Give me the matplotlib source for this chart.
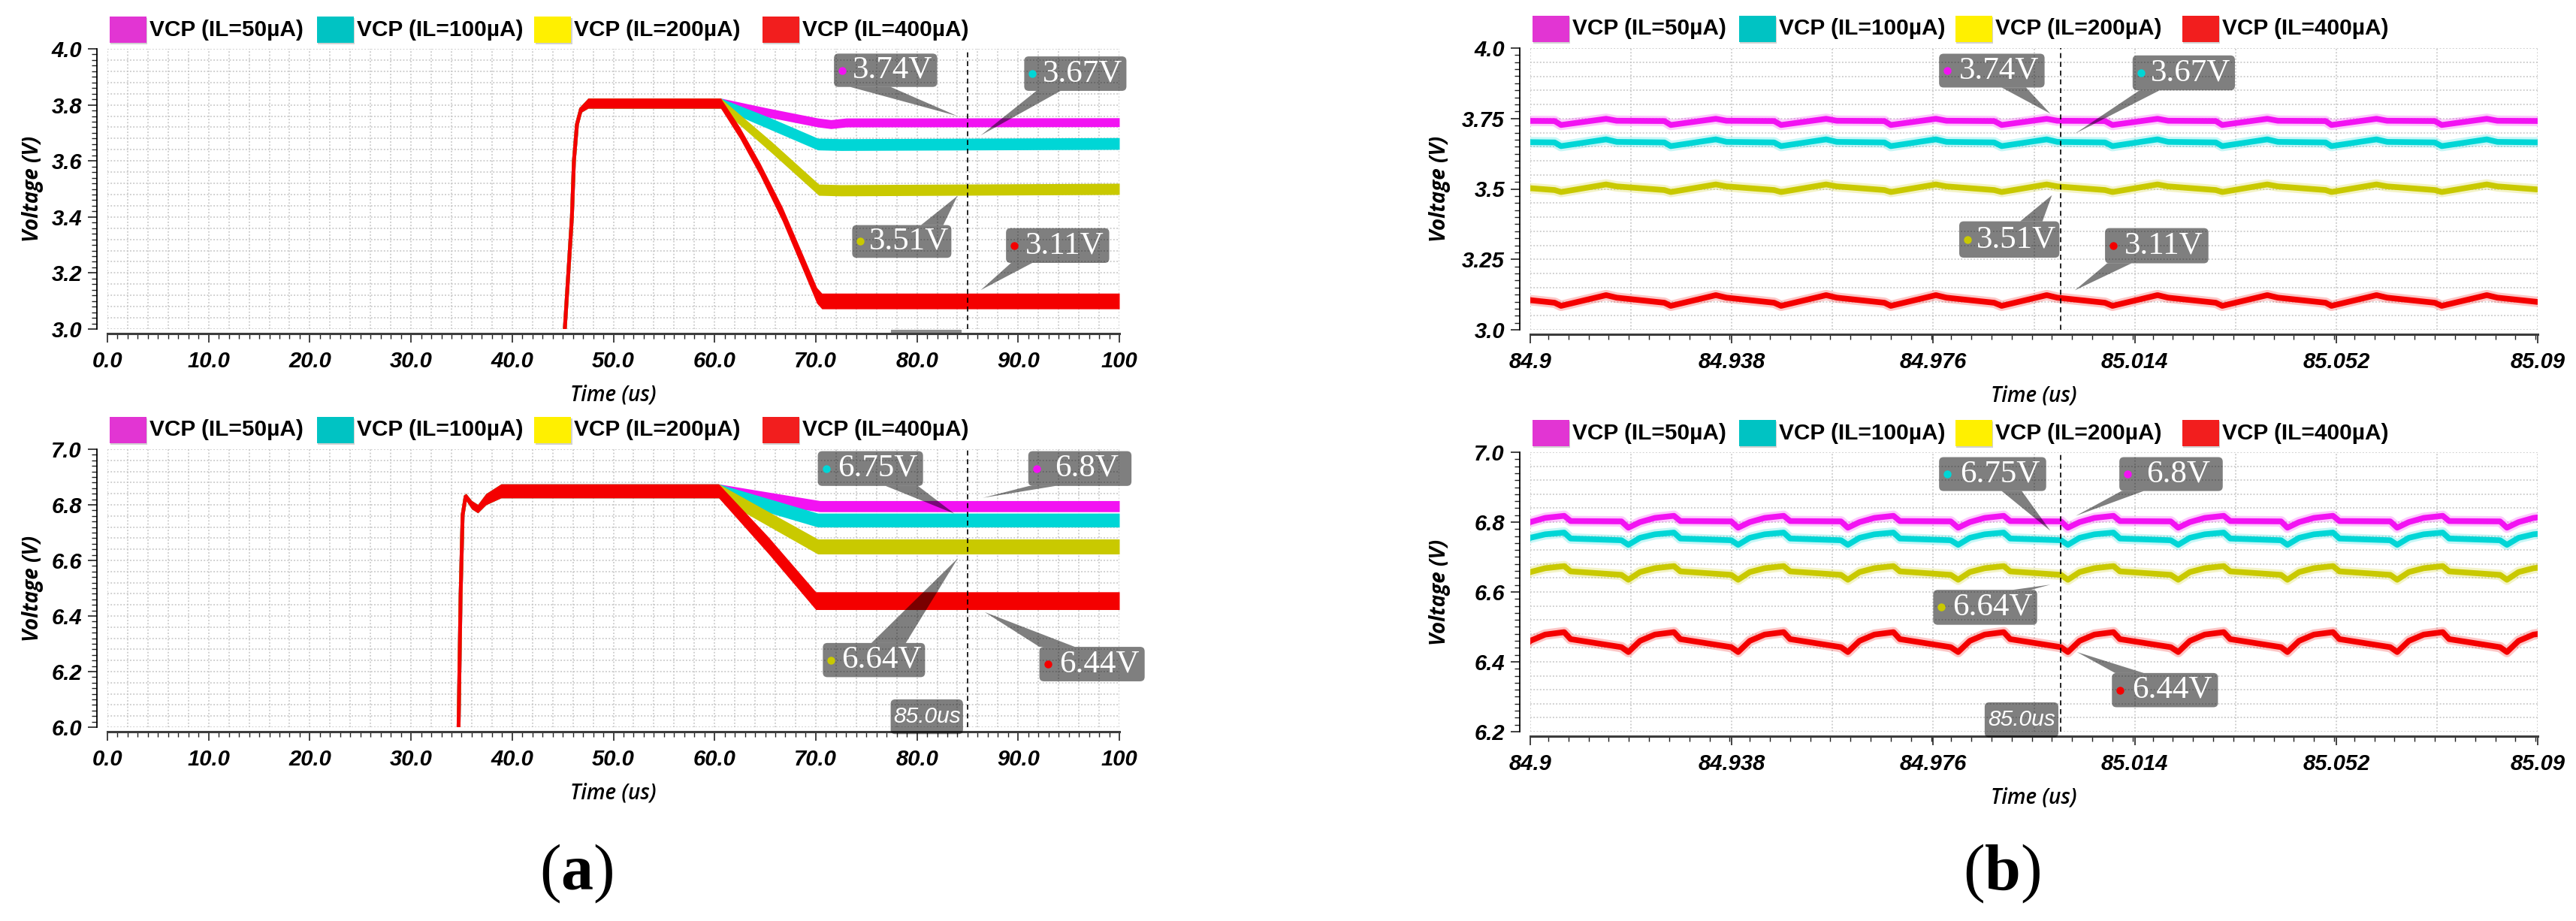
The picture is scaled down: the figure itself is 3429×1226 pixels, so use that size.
import numpy as np
import matplotlib
matplotlib.use("Agg")
import matplotlib.pyplot as plt
from matplotlib import font_manager as fm
from matplotlib.patches import FancyBboxPatch, Polygon, Rectangle
from matplotlib.ticker import MultipleLocator

W_PX, H_PX, DPI = 3430, 1226, 100

_names = {f.name for f in fm.fontManager.ttflist}


def pick(*cands):
    for c in cands:
        if c in _names:
            return c
    return "DejaVu Sans"


SANS = pick("Liberation Sans", "Arimo", "DejaVu Sans")
LBL = pick("Open Sans", "Liberation Sans", "DejaVu Sans")
SERIF = pick("Liberation Serif", "DejaVu Serif")

plt.rcParams["font.family"] = [SANS, "DejaVu Sans"]
plt.rcParams["mathtext.fontset"] = "custom"
plt.rcParams["mathtext.rm"] = SERIF
plt.rcParams["mathtext.bf"] = SERIF + ":bold"

# ============================ DATA ============================
SERIES = ["VCP (IL=50µA)", "VCP (IL=100µA)", "VCP (IL=200µA)", "VCP (IL=400µA)"]

# ---- (a) top panel, 0..100 us : shared start-up, then per-series tails
A_TOP_RISE_T = [45.2, 45.9, 46.1, 46.4, 46.8, 47.5, 60.6]
A_TOP_RISE_V = [3.00, 3.40, 3.60, 3.73, 3.785, 3.806, 3.806]
A_TOP_RISE_H = [0.0, 0.0, 0.0, 0.006, 0.012, 0.018, 0.018]   # ripple half-band
A_TOP_TAIL_T = [[65.3, 70.2, 71.5, 73.0, 100.0],
                [65.5, 70.2, 72.5, 100.0],
                [65.6, 70.3, 72.5, 100.0],
                [62.5, 64.5, 66.7, 68.7, 70.1, 70.6, 100.0]]
A_TOP_TAIL_V = [[3.772, 3.737, 3.731, 3.737, 3.738],
                [3.733, 3.660, 3.658, 3.662],
                [3.650, 3.497, 3.495, 3.500],
                [3.700, 3.570, 3.410, 3.240, 3.120, 3.100, 3.100]]
A_TOP_TAIL_H = [[0.016, 0.016, 0.016, 0.016, 0.016],
                [0.021, 0.021, 0.021, 0.021],
                [0.020, 0.020, 0.020, 0.020],
                [0.020, 0.022, 0.025, 0.027, 0.028, 0.028, 0.028]]

# ---- (a) bottom panel
A_BOT_RISE_T = [34.7, 34.9, 35.1, 35.4, 36.0, 36.6, 37.4, 38.9, 60.4]
A_BOT_RISE_V = [6.00, 6.47, 6.763, 6.83, 6.80, 6.786, 6.82, 6.85, 6.85]
A_BOT_RISE_H = [0.0, 0.0, 0.008, 0.012, 0.015, 0.015, 0.020, 0.025, 0.025]
A_BOT_TAIL_T = [[70.4, 100.0],
                [70.2, 100.0],
                [70.2, 100.0],
                [65.3, 70.0, 70.5, 100.0]]
A_BOT_TAIL_V = [[6.795, 6.795],
                [6.745, 6.745],
                [6.650, 6.650],
                [6.655, 6.455, 6.455, 6.455]]
A_BOT_TAIL_H = [[0.020, 0.020],
                [0.025, 0.025],
                [0.027, 0.027],
                [0.030, 0.032, 0.032, 0.032]]

# ---- (b) top panel (zoom 84.9..85.09 us): ripple dip times and per-cycle vertices
B_TOP_DIPS = [84.8851, 84.9058, 84.9265, 84.9473, 84.9680, 84.9889,
              85.0098, 85.0305, 85.0511, 85.0719]
B_TOP_CYCLE_DT = [0.0, 0.0085, 0.0105, 0.0195]        # dip, peak, kink, pre-dip
B_TOP_CYCLE_V = [[3.727, 3.749, 3.742, 3.741],
                 [3.652, 3.676, 3.667, 3.665],
                 [3.489, 3.516, 3.509, 3.496],
                 [3.085, 3.123, 3.114, 3.096]]

# ---- (b) bottom panel
B_BOT_DIPS = [84.8978, 84.9185, 84.9392, 84.9599, 84.9807, 85.0014,
              85.0222, 85.0428, 85.0635, 85.0842]
B_BOT_CYCLE_DT = [0.0, 0.0022, 0.0050, 0.0086, 0.0098, 0.0194]
B_BOT_CYCLE_V = [[6.784, 6.800, 6.812, 6.818, 6.803, 6.802],
                 [6.735, 6.755, 6.765, 6.770, 6.753, 6.748],
                 [6.635, 6.657, 6.668, 6.674, 6.659, 6.649],
                 [6.428, 6.460, 6.478, 6.485, 6.465, 6.442]]

CURSOR_T = 85.0
CURSOR_LABEL = "85.0us"

# callout texts (series index, text)
A_TOP_MARKS = [(0, "3.74V"), (1, "3.67V"), (2, "3.51V"), (3, "3.11V")]
A_BOT_MARKS = [(1, "6.75V"), (0, "6.8V"), (2, "6.64V"), (3, "6.44V")]
B_TOP_MARKS = [(0, "3.74V"), (1, "3.67V"), (2, "3.51V"), (3, "3.11V")]
B_BOT_MARKS = [(1, "6.75V"), (0, "6.8V"), (2, "6.64V"), (3, "6.44V")]

# tick labels
A_X_TICKS = [0, 10, 20, 30, 40, 50, 60, 70, 80, 90, 100]
A_X_LABELS = ["0.0", "10.0", "20.0", "30.0", "40.0", "50.0", "60.0", "70.0", "80.0", "90.0", "100"]
A_TOP_Y_TICKS = [3.0, 3.2, 3.4, 3.6, 3.8, 4.0]
A_TOP_Y_LABELS = ["3.0", "3.2", "3.4", "3.6", "3.8", "4.0"]
A_BOT_Y_TICKS = [6.0, 6.2, 6.4, 6.6, 6.8, 7.0]
A_BOT_Y_LABELS = ["6.0", "6.2", "6.4", "6.6", "6.8", "7.0"]
B_X_TICKS = [84.9, 84.938, 84.976, 85.014, 85.052, 85.09]
B_X_LABELS = ["84.9", "84.938", "84.976", "85.014", "85.052", "85.09"]
B_TOP_Y_TICKS = [3.0, 3.25, 3.5, 3.75, 4.0]
B_TOP_Y_LABELS = ["3.0", "3.25", "3.5", "3.75", "4.0"]
B_BOT_Y_TICKS = [6.2, 6.4, 6.6, 6.8, 7.0]
B_BOT_Y_LABELS = ["6.2", "6.4", "6.6", "6.8", "7.0"]

# ============================ STYLE / LAYOUT ============================
LINE_COLORS = ["#F212F2", "#00D6D6", "#C9C900", "#F40000"]
LEG_COLORS = ["#E235D3", "#00C3C3", "#FFF000", "#F21E1E"]

AXPOS = {  # left, bottom, width, height in pixels (bottom measured from top edge)
    "a_top": (143, 438, 1347, 373),
    "a_bot": (143, 968, 1347, 370),
    "b_top": (2037, 439, 1341, 375),
    "b_bot": (2037, 974, 1341, 372),
}

# callout geometry: box (x0,x1,y0,y1), pointer base (bx0,bx1,by), tip (tx,ty)
GEOM = {
    "a_top": [((71.8, 82.0, 3.864, 3.983), (73.4, 77.4, 3.864), (84.0, 3.760)),
              ((90.6, 100.7, 3.850, 3.973), (91.8, 94.2, 3.850), (86.3, 3.691)),
              ((73.6, 83.4, 3.254, 3.371), (80.4, 82.6, 3.371), (84.0, 3.475)),
              ((88.8, 99.0, 3.236, 3.360), (89.3, 91.4, 3.236), (86.3, 3.139))],
    "a_bot": [((70.2, 80.6, 6.868, 6.993), (76.9, 80.1, 6.868), (83.7, 6.768)),
              ((91.0, 101.2, 6.868, 6.993), (91.1, 93.7, 6.868), (86.5, 6.825)),
              ((70.7, 80.8, 6.180, 6.303), (75.5, 78.9, 6.303), (84.05, 6.608)),
              ((92.1, 102.5, 6.165, 6.289), (92.1, 95.6, 6.289), (86.7, 6.414))],
    "b_top": [((84.9771, 84.9970, 3.860, 3.980), (84.9889, 84.9935, 3.860), (84.9981, 3.767)),
              ((85.0136, 85.0329, 3.850, 3.974), (85.0149, 85.0187, 3.850), (85.0027, 3.696)),
              ((84.9809, 84.9998, 3.256, 3.385), (84.9924, 84.9966, 3.385), (84.9984, 3.478)),
              ((85.0084, 85.0279, 3.236, 3.361), (85.0088, 85.0134, 3.236), (85.0027, 3.140))],
    "b_bot": [((84.9771, 84.9973, 6.889, 6.986), (84.9889, 84.9927, 6.889), (84.9981, 6.775)),
              ((85.0111, 85.0306, 6.889, 6.986), (85.0115, 85.0157, 6.889), (85.0029, 6.818)),
              ((84.9760, 84.9956, 6.506, 6.606), (84.9910, 84.9944, 6.606), (84.9981, 6.621)),
              ((85.0097, 85.0297, 6.270, 6.368), (85.0103, 85.0157, 6.368), (85.0031, 6.428))],
}
TIMEBOX = {"a_bot": (77.4, 84.55, 5.975, 6.100), "b_bot": (84.9857, 84.9996, 6.184, 6.284)}
SLIVER = {"a_top": (77.4, 84.4)}   # hidden cursor-label box peeking at the axis line

LEG_X = [0.002, 0.207, 0.422, 0.647]

fig = plt.figure(figsize=(W_PX / DPI, H_PX / DPI), dpi=DPI)


def make_ax(key):
    l, b, w, h = AXPOS[key]
    return fig.add_axes([l / W_PX, 1 - b / H_PX, w / W_PX, h / H_PX])


def style_ax(ax, key, xlim, ylim, xt, xl, yt, yl, xminor, yminor, xgrid, ygrid, ylab_x):
    ax.set_xlim(*xlim)
    ax.set_ylim(*ylim)
    ax.patch.set_alpha(0)
    for s in ("top", "right"):
        ax.spines[s].set_visible(False)
    ax.spines["left"].set_position(("outward", 10))
    ax.spines["bottom"].set_position(("outward", 4.5))
    ax.spines["left"].set_linewidth(1.3)
    ax.spines["bottom"].set_linewidth(2.2)
    ax.spines["bottom"].set_color("#3c3c3c")
    fkw = dict(fontsize=21, fontweight="bold", fontstyle="italic", family=SANS)
    ax.set_xticks(xt, xl, **fkw)
    ax.set_yticks(yt, yl, **fkw)
    ax.xaxis.set_minor_locator(MultipleLocator(xminor))
    ax.yaxis.set_minor_locator(MultipleLocator(yminor))
    ax.tick_params(which="major", length=8.5, width=1.2, direction="out", color="#222222")
    ax.tick_params(which="minor", length=5, width=1.0, direction="out", color="#222222")
    ax.tick_params(axis="x", which="major", pad=8)
    ax.tick_params(axis="y", which="major", pad=6)
    # dotted grid
    gx = np.arange(xlim[0], xlim[1] + xgrid * 0.5, xgrid)
    gy = np.arange(ylim[0], ylim[1] + ygrid * 0.5, ygrid)
    for x in gx:
        ax.axvline(x, color="#c2c2c2", lw=1.1, ls=(0, (1.2, 1.6)), zorder=0)
    for y in gy:
        ax.axhline(y, color="#c2c2c2", lw=1.1, ls=(0, (1.2, 1.6)), zorder=0)
    ax.set_xlabel("Time (us)", fontsize=20, fontstyle="italic", fontweight="semibold", family=LBL)
    ax.set_ylabel("Voltage (V)", fontsize=20, fontstyle="italic", fontweight="bold", family=LBL)
    axh = AXPOS[key][3]
    ax.xaxis.set_label_coords(0.5, -88 / axh)
    ax.xaxis.label.set_va("center")
    ax.yaxis.set_label_coords(ylab_x, 0.5)
    ax.yaxis.label.set_va("center")
    ax.axvline(CURSOR_T, color="black", lw=1.2, ls=(0, (4, 3)), zorder=6)


def legend(ax, key):
    axh = AXPOS[key][3]
    axw = AXPOS[key][2]
    pw = 49 / axw
    for i, lab in enumerate(SERIES):
        x = LEG_X[i]
        ax.add_patch(Rectangle((x + 1.5 / axw, 1 + 6 / axh), pw, 35 / axh, transform=ax.transAxes,
                               clip_on=False, color="#000000", alpha=0.18, lw=0, zorder=5))
        ax.add_patch(Rectangle((x, 1 + 8 / axh), pw, 35 / axh, transform=ax.transAxes,
                               clip_on=False, color=LEG_COLORS[i], lw=0, zorder=6))
        ax.text(x + pw + 4 / axw, 1 + 25.5 / axh, lab, transform=ax.transAxes, ha="left",
                va="center", fontsize=21.5, fontweight="bold", family=SANS, color="black",
                clip_on=False)


def scales(ax, key):
    l, b, w, h = AXPOS[key]
    x0, x1 = ax.get_xlim()
    y0, y1 = ax.get_ylim()
    return w / (x1 - x0), h / (y1 - y0)


def gray_box(ax, key, x0, x1, y0, y1):
    sx, sy = scales(ax, key)
    p = FancyBboxPatch((x0, y0), x1 - x0, y1 - y0,
                       boxstyle="round,pad=0,rounding_size=%g" % (6 / sx),
                       mutation_aspect=sx / sy, fc=(0, 0, 0, 0.5), ec="none",
                       clip_on=False, zorder=10)
    ax.add_patch(p)


def callouts(ax, key, marks):
    sx, sy = scales(ax, key)
    for (si, txt), (box, base, tip) in zip(marks, GEOM[key]):
        x0, x1, y0, y1 = box
        gray_box(ax, key, x0, x1, y0, y1)
        ax.add_patch(Polygon([(base[0], base[2]), (base[1], base[2]), tip], closed=True,
                             fc=(0, 0, 0, 0.5), ec="none", clip_on=False, zorder=10))
        yc = 0.5 * (y0 + y1)
        ax.plot([x0 + 11 / sx], [yc], "o", ms=7.5, color=LINE_COLORS[si], mec="none",
                zorder=11, clip_on=False)
        ax.text(x0 + 0.57 * (x1 - x0), yc, txt, ha="center", va="center", color="white",
                family=SERIF, fontsize=31, zorder=12, clip_on=False)


def timebox(ax, key):
    x0, x1, y0, y1 = TIMEBOX[key]
    gray_box(ax, key, x0, x1, y0, y1)
    ax.text(0.5 * (x0 + x1), 0.5 * (y0 + y1), CURSOR_LABEL, ha="center", va="center",
            color="white", fontsize=21.5, fontstyle="italic", family=SANS, zorder=12,
            clip_on=False)


def sliver(ax, key):
    sx, sy = scales(ax, key)
    x0, x1 = SLIVER[key]
    y0 = ax.get_ylim()[0]
    ax.add_patch(Rectangle((x0, y0 - 5 / sy), x1 - x0, 4 / sy, fc=(0, 0, 0, 0.45), ec="none",
                           clip_on=False, zorder=9))


def draw_a(ax, rt, rv, rh, tt, tv, th):
    for i in range(4):
        t = np.asarray(rt + tt[i])
        v = np.asarray(rv + tv[i])
        h = np.asarray(rh + th[i])
        ax.fill_between(t, v - h, v + h, color=LINE_COLORS[i], lw=0, zorder=2 + i)
        ax.plot(t, v, color=LINE_COLORS[i], lw=3.6, zorder=2 + i, solid_joinstyle="round")


def draw_b(ax, dips, dts, vals):
    for i in range(4):
        t = [d + dt for d in dips for dt in dts]
        v = [vals[i][k] for d in dips for k in range(len(dts))]
        ax.plot(t, v, color=LINE_COLORS[i], lw=10, alpha=0.22, zorder=2 + i,
                solid_joinstyle="round")
        ax.plot(t, v, color=LINE_COLORS[i], lw=5.5, zorder=2 + i, solid_joinstyle="round")


# ---- (a) top
ax = make_ax("a_top")
style_ax(ax, "a_top", (0, 100), (3.0, 4.0), A_X_TICKS, A_X_LABELS, A_TOP_Y_TICKS,
         A_TOP_Y_LABELS, 1, 0.02, 2, 0.04, -0.0735)
draw_a(ax, A_TOP_RISE_T, A_TOP_RISE_V, A_TOP_RISE_H, A_TOP_TAIL_T, A_TOP_TAIL_V, A_TOP_TAIL_H)
legend(ax, "a_top")
callouts(ax, "a_top", A_TOP_MARKS)
sliver(ax, "a_top")

# ---- (a) bottom
ax = make_ax("a_bot")
style_ax(ax, "a_bot", (0, 100), (6.0, 7.0), A_X_TICKS, A_X_LABELS, A_BOT_Y_TICKS,
         A_BOT_Y_LABELS, 1, 0.02, 2, 0.04, -0.0735)
draw_a(ax, A_BOT_RISE_T, A_BOT_RISE_V, A_BOT_RISE_H, A_BOT_TAIL_T, A_BOT_TAIL_V, A_BOT_TAIL_H)
legend(ax, "a_bot")
callouts(ax, "a_bot", A_BOT_MARKS)
timebox(ax, "a_bot")

# ---- (b) top
ax = make_ax("b_top")
style_ax(ax, "b_top", (84.9, 85.09), (3.0, 4.0), B_X_TICKS, B_X_LABELS, B_TOP_Y_TICKS,
         B_TOP_Y_LABELS, 0.0038, 0.025, 0.019, 0.05, -0.0895)
draw_b(ax, B_TOP_DIPS, B_TOP_CYCLE_DT, B_TOP_CYCLE_V)
legend(ax, "b_top")
callouts(ax, "b_top", B_TOP_MARKS)

# ---- (b) bottom
ax = make_ax("b_bot")
style_ax(ax, "b_bot", (84.9, 85.09), (6.2, 7.0), B_X_TICKS, B_X_LABELS, B_BOT_Y_TICKS,
         B_BOT_Y_LABELS, 0.0038, 0.02, 0.019, 0.04, -0.0895)
draw_b(ax, B_BOT_DIPS, B_BOT_CYCLE_DT, B_BOT_CYCLE_V)
legend(ax, "b_bot")
callouts(ax, "b_bot", B_BOT_MARKS)
timebox(ax, "b_bot")

# ---- panel letters
fig.text(767 / W_PX, 1 - 1163 / H_PX, r"$(\mathbf{a})$", ha="center", va="center", fontsize=62)
fig.text(2665 / W_PX, 1 - 1163 / H_PX, r"$(\mathbf{b})$", ha="center", va="center", fontsize=62)

fig.savefig("out.png", dpi=DPI)
